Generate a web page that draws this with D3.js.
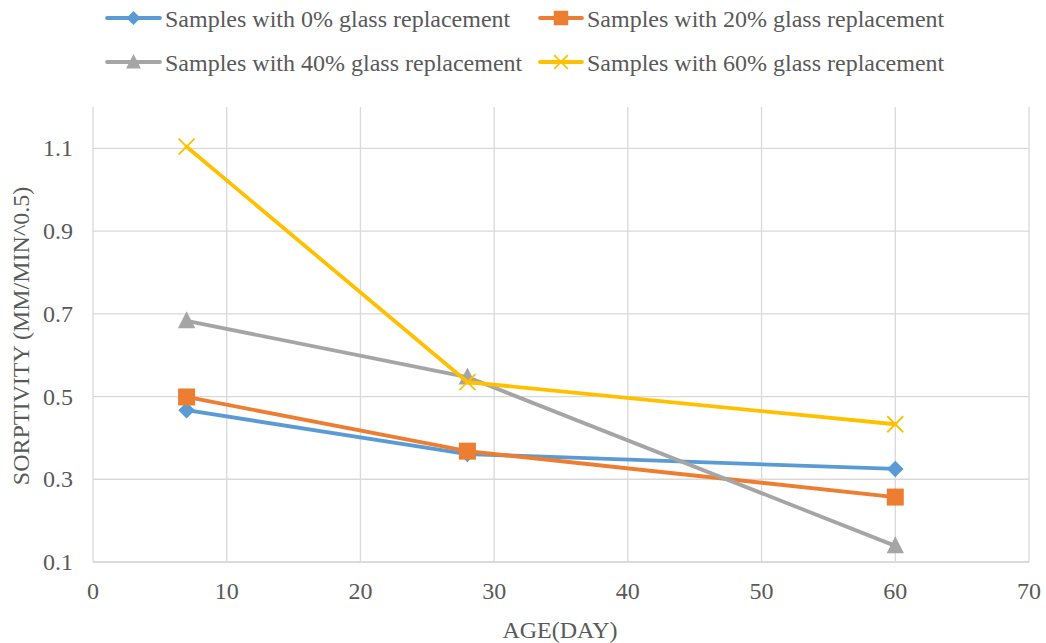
<!DOCTYPE html>
<html><head><meta charset="utf-8">
<script src="https://cdn.jsdelivr.net/npm/d3@7"></script>
<style>body{margin:0;background:#fff}svg{display:block}</style>
</head><body><svg id="c" width="1046" height="643" font-family="'Liberation Serif', 'Times New Roman', Times, 'DejaVu Serif', serif"></svg>
<script>
const ages = [7, 28, 60];
const s0 = [0.467, 0.361, 0.325];
const s20 = [0.499, 0.368, 0.257];
const s40 = [0.683, 0.547, 0.139];
const s60 = [1.104, 0.535, 0.433];
const seriesNames = ["Samples with 0% glass replacement","Samples with 20% glass replacement","Samples with 40% glass replacement","Samples with 60% glass replacement"];
const xTicks = [0,10,20,30,40,50,60,70];
const yTicks = [0.1,0.3,0.5,0.7,0.9,1.1];

const colors = ["#5B9BD5","#ED7D31","#A5A5A5","#FFC000"];
const markers = ["diamond","square","triangle","x"];
const series = [s0,s20,s40,s60].map((v,i)=>({name:seriesNames[i],values:v,color:colors[i],marker:markers[i]}));

const svg = d3.select("#c");
const L=93,R=1029,T=107,B=562;
const x = d3.scaleLinear().domain([0,70]).range([L,R]);
const y = d3.scaleLinear().domain([0.1,1.2]).range([B,T]);
const TXT="#595959";

svg.append("g").selectAll("line").data(xTicks).join("line")
  .attr("x1",d=>x(d)).attr("x2",d=>x(d)).attr("y1",T).attr("y2",B)
  .attr("stroke","#D9D9D9").attr("stroke-width",1.3);
svg.append("g").selectAll("line").data(yTicks).join("line")
  .attr("x1",L).attr("x2",R).attr("y1",d=>y(d)).attr("y2",d=>y(d))
  .attr("stroke","#D9D9D9").attr("stroke-width",1.3);
svg.append("line").attr("x1",L).attr("x2",R).attr("y1",B).attr("y2",B).attr("stroke","#D9D9D9").attr("stroke-width",1.3);

svg.append("g").selectAll("text").data(xTicks).join("text")
  .attr("x",d=>x(d)).attr("y",B+37).attr("text-anchor","middle").attr("font-size",24).attr("fill",TXT).text(d=>d);
svg.append("g").selectAll("text").data(yTicks).join("text")
  .attr("x",L-20).attr("y",d=>y(d)+8).attr("text-anchor","end").attr("font-size",24).attr("fill",TXT).text(d=>d.toFixed(1));

svg.append("text").attr("x",560).attr("y",638).attr("text-anchor","middle").attr("font-size",24).attr("fill",TXT).text("AGE(DAY)");
svg.append("text").attr("transform",`translate(29,${336}) rotate(-90)`).attr("text-anchor","middle").attr("font-size",24).attr("fill",TXT).text("SORPTIVITY (MM/MIN^0.5)");

function drawMarker(g,type,cx,cy,color,scale){
  const s=scale||1;
  if(type==="diamond"){
    g.append("path").attr("d",`M${cx},${cy-8.3*s}L${cx+8.3*s},${cy}L${cx},${cy+8.3*s}L${cx-8.3*s},${cy}Z`).attr("fill",color);
  } else if(type==="square"){
    g.append("rect").attr("x",cx-8.5*s).attr("y",cy-8.5*s).attr("width",17*s).attr("height",17*s).attr("fill",color);
  } else if(type==="triangle"){
    g.append("path").attr("d",`M${cx},${cy-9.5*s}L${cx+8.7*s},${cy+7.5*s}L${cx-8.7*s},${cy+7.5*s}Z`).attr("fill",color);
  } else {
    const h=8*s;
    g.append("path").attr("d",`M${cx-h},${cy-h}L${cx+h},${cy+h}M${cx-h},${cy+h}L${cx+h},${cy-h}`).attr("stroke",color).attr("stroke-width",1.8).attr("fill","none");
  }
}

const line = d3.line().x(d=>x(d[0])).y(d=>y(d[1]));
series.forEach(s=>{
  const g = svg.append("g");
  const pts = ages.map((a,i)=>[a,s.values[i]]);
  g.append("path").attr("d",line(pts)).attr("fill","none").attr("stroke",s.color).attr("stroke-width",3.8).attr("stroke-linejoin","round").attr("stroke-linecap","round");
  pts.forEach(p=>drawMarker(g,s.marker,x(p[0]),y(p[1]),s.color));
});

const legPos = [[107,18],[540,18],[107,62],[540,62]];
series.forEach((s,i)=>{
  const [lx,ly]=legPos[i];
  const g=svg.append("g");
  const w = i%2===0?53:42;
  g.append("line").attr("x1",lx).attr("x2",lx+w).attr("y1",ly).attr("y2",ly).attr("stroke",s.color).attr("stroke-width",3.8).attr("stroke-linecap","round");
  drawMarker(g,s.marker,lx+w/2,ly,s.color,0.85);
  g.append("text").attr("x",lx+w+5).attr("y",ly+8.5).attr("font-size",24).attr("fill",TXT).text(s.name);
});
</script></body></html>
